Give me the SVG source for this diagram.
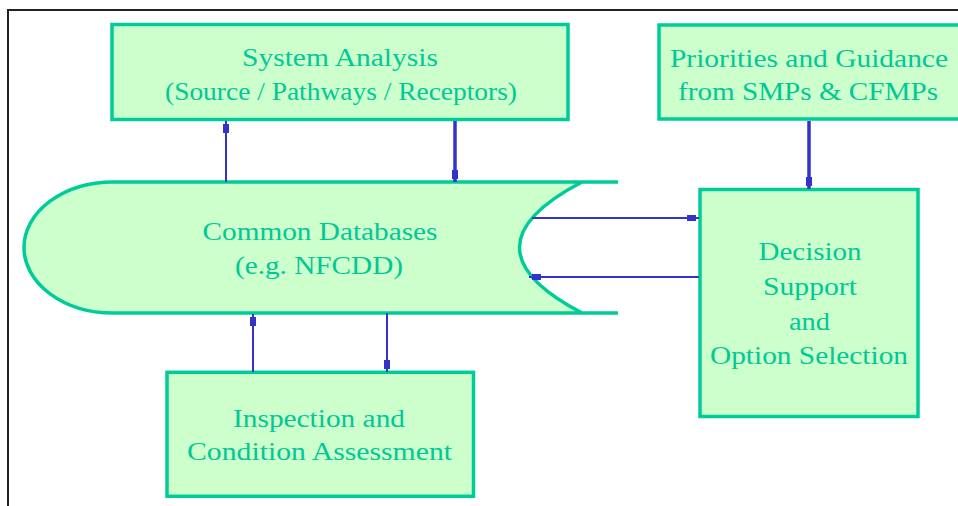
<svg xmlns="http://www.w3.org/2000/svg" width="958" height="506" viewBox="0 0 958 506">
<style>
.box{fill:#ccffcc;stroke:#00cc99;stroke-width:3.5}
.t{font-family:"Liberation Serif","Times New Roman",serif;font-size:26px;fill:#00c896;text-anchor:middle}
.c{stroke:#3333cc;fill:none;stroke-width:2}
.k{stroke-width:3.5}
</style>
<defs>
<marker id="m" markerUnits="userSpaceOnUse" markerWidth="14" markerHeight="8" refX="13" refY="4" orient="auto">
<rect x="1" y="1" width="9" height="6" fill="#3333cc"/>
</marker>
</defs>
<rect x="0" y="0" width="958" height="506" fill="#ffffff"/>
<rect x="8" y="10" width="1000" height="600" fill="none" stroke="#222222" stroke-width="2"/>

<g id="system-analysis">
<rect class="box" x="112" y="24.5" width="456" height="95"/>
<text class="t" x="340" y="66" textLength="196" lengthAdjust="spacingAndGlyphs">System Analysis</text>
<text class="t" x="341" y="100" textLength="352" lengthAdjust="spacingAndGlyphs">(Source / Pathways / Receptors)</text>
</g>

<g id="priorities">
<rect class="box" x="659" y="25" width="320" height="94"/>
<text class="t" x="809" y="67" textLength="278" lengthAdjust="spacingAndGlyphs">Priorities and Guidance</text>
<text class="t" x="808" y="100" textLength="260" lengthAdjust="spacingAndGlyphs">from SMPs &amp; CFMPs</text>
</g>

<g id="common-databases">
<path d="M113,182 L582,182 Q457,247.5 582,313 L113,313 A89,65.5 0 0 1 113,182 Z" fill="#ccffcc" stroke="none"/>
<path d="M618,182 L113,182 A89,65.5 0 0 0 113,313 L618,313 M582,182 Q457,247.5 582,313" fill="none" stroke="#00cc99" stroke-width="3.5"/>
<text class="t" x="320" y="240" textLength="235" lengthAdjust="spacingAndGlyphs">Common Databases</text>
<text class="t" x="319" y="274" textLength="168" lengthAdjust="spacingAndGlyphs">(e.g. NFCDD)</text>
</g>

<g id="decision-support">
<rect class="box" x="700" y="189.5" width="218" height="227"/>
<text class="t" x="810" y="260" textLength="103" lengthAdjust="spacingAndGlyphs">Decision</text>
<text class="t" x="810" y="295" textLength="94" lengthAdjust="spacingAndGlyphs">Support</text>
<text class="t" x="809.5" y="330" textLength="41" lengthAdjust="spacingAndGlyphs">and</text>
<text class="t" x="809" y="364" textLength="198" lengthAdjust="spacingAndGlyphs">Option Selection</text>
</g>

<g id="inspection">
<rect class="box" x="167" y="372.3" width="306.5" height="124"/>
<text class="t" x="319" y="427" textLength="172" lengthAdjust="spacingAndGlyphs">Inspection and</text>
<text class="t" x="319.5" y="460" textLength="265" lengthAdjust="spacingAndGlyphs">Condition Assessment</text>
</g>

<g id="connectors">
<line class="c" x1="226" y1="182" x2="226" y2="121" marker-end="url(#m)"/>
<line class="c k" x1="455" y1="121" x2="455" y2="182" marker-end="url(#m)"/>
<line class="c k" x1="809" y1="121" x2="809" y2="189" marker-end="url(#m)"/>
<line class="c" x1="532" y1="218" x2="699" y2="218" marker-end="url(#m)"/>
<line class="c" x1="699" y1="277" x2="529" y2="277" marker-end="url(#m)"/>
<line class="c" x1="253" y1="372" x2="253" y2="314" marker-end="url(#m)"/>
<line class="c" x1="387" y1="313" x2="387" y2="372" marker-end="url(#m)"/>
</g>
</svg>
